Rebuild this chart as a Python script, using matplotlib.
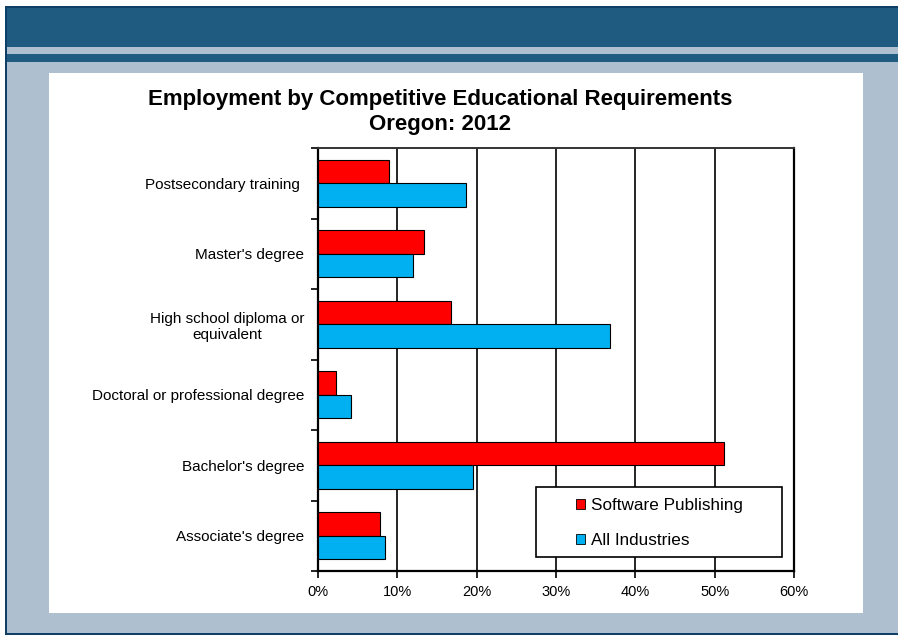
import matplotlib
matplotlib.use("Agg")
import matplotlib.pyplot as plt
from matplotlib.patches import Rectangle, Patch
from matplotlib.ticker import FixedLocator, PercentFormatter
import numpy as np

plt.rcParams['font.family'] = ['Liberation Sans', 'DejaVu Sans']

# Categories listed bottom to top (as drawn on the y axis)
categories = [
    "Associate's degree",
    "Bachelor's degree",
    "Doctoral or professional degree",
    "High school diploma or\nequivalent",
    "Master's degree",
    "Postsecondary training ",
]
software_publishing = [7.8, 51.2, 2.3, 16.8, 13.4, 8.9]
all_industries = [8.4, 19.6, 4.2, 36.8, 12.0, 18.7]
series_names = ["Software Publishing", "All Industries"]
x_ticks = [0, 10, 20, 30, 40, 50, 60]

title_line1 = "Employment by Competitive Educational Requirements"
title_line2 = "Oregon: 2012"

RED = "#FF0000"
BLUE = "#00B0F0"
BAND = "#1F5B80"
BAND_EDGE = "#0E3F66"
SLATE = "#AEBFD0"

W, H = 898, 635
fig = plt.figure(figsize=(W / 100, H / 100), dpi=100)
fig.patch.set_facecolor("white")


def px_rect(x0, y0, x1, y1, color, z=0):
    """Rectangle given in pixel coordinates measured from the top-left."""
    fig.patches.append(Rectangle((x0 / W, 1 - y1 / H), (x1 - x0) / W, (y1 - y0) / H,
                                 transform=fig.transFigure, facecolor=color,
                                 edgecolor="none", zorder=z))


# slide background: dark frame, header band, stripes and white panel
px_rect(5, 6, W, H, BAND_EDGE, 0)
px_rect(7, 8, W, 633, SLATE, 0)
px_rect(7, 8, W, 47, BAND, 0)
px_rect(7, 54, W, 62, BAND, 0)
px_rect(49, 73, 863, 613, "white", 0)

ax = fig.add_axes([318 / W, 1 - 571 / H, (794 - 318) / W, (571 - 148) / H])
ax.set_zorder(2)
ax.set_facecolor("white")

y = np.arange(len(categories))
h = 0.335
ax.barh(y + h / 2, software_publishing, height=h, color=RED, edgecolor="black",
        linewidth=0.8, zorder=3, label=series_names[0])
ax.barh(y - h / 2, all_industries, height=h, color=BLUE, edgecolor="black",
        linewidth=0.8, zorder=3, label=series_names[1])

ax.set_xlim(0, 60)
ax.set_ylim(-0.5, len(categories) - 0.5)
ax.set_xticks(x_ticks)
ax.xaxis.set_major_formatter(PercentFormatter(decimals=0))
ax.grid(axis="x", color="black", linewidth=1.2, zorder=1)
ax.set_axisbelow(True)

ax.set_yticks(y)
ax.set_yticklabels(categories, fontsize=11)
for lbl in ax.get_yticklabels():
    lbl.set_horizontalalignment("right")
    lbl.set_multialignment("center")
ax.yaxis.set_minor_locator(FixedLocator(np.arange(-0.5, len(categories), 1.0)))
ax.tick_params(axis="y", which="major", length=0, pad=10)
ax.tick_params(axis="y", which="minor", length=5, width=1.2, direction="out")
ax.tick_params(axis="x", which="major", length=5, width=1.2, direction="out",
               labelsize=10.5, pad=5)

for side in ["left", "bottom", "right"]:
    ax.spines[side].set_linewidth(1.6)
    ax.spines[side].set_color("black")
ax.spines["top"].set_linewidth(1.4)
ax.spines["top"].set_color("#333333")

# legend box with its own frame
fig.patches.append(Rectangle((536 / W, 1 - 557 / H), (782 - 536) / W, (557 - 487) / H,
                             transform=fig.transFigure, facecolor="white",
                             edgecolor="black", linewidth=1.2, zorder=5))
handles = [Patch(facecolor=RED, edgecolor="black", linewidth=0.6),
           Patch(facecolor=BLUE, edgecolor="black", linewidth=0.6)]
leg = fig.legend(handles, series_names, loc="upper left",
                 bbox_to_anchor=(576 / W, 1 - 498 / H), bbox_transform=fig.transFigure,
                 frameon=False, fontsize=12.3, handlelength=0.55, handleheight=0.55,
                 handletextpad=0.3, labelspacing=1.18, borderpad=0, borderaxespad=0)
leg.set_zorder(6)

fig.text(440 / W, 1 - 105 / H, title_line1, ha="center", va="baseline",
         fontsize=16, fontweight="bold")
fig.text(440 / W, 1 - 130 / H, title_line2, ha="center", va="baseline",
         fontsize=16, fontweight="bold")

fig.savefig("out.png", dpi=100, facecolor=fig.get_facecolor())
